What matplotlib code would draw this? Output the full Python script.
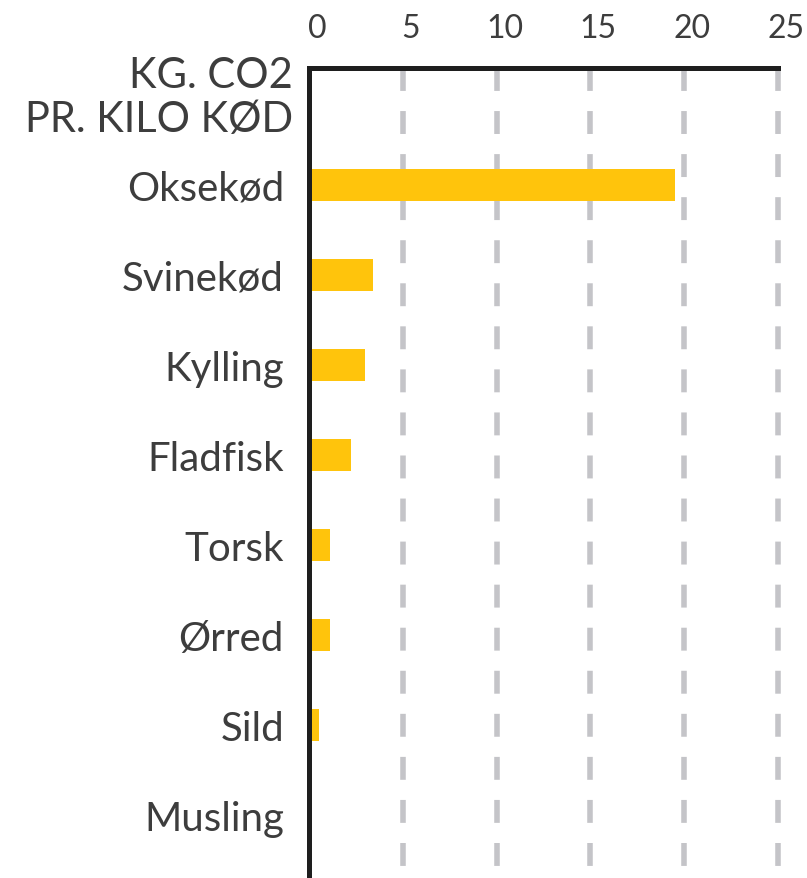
import matplotlib
matplotlib.use("Agg")
import matplotlib.pyplot as plt
import matplotlib.transforms as mtransforms

categories = ["Oksekød", "Svinekød", "Kylling", "Fladfisk", "Torsk", "Ørred", "Sild", "Musling"]
values = [19.5, 3.4, 3.0, 2.25, 1.1, 1.1, 0.55, 0.0]
xticks = [0, 5, 10, 15, 20, 25]
header = "KG. CO2\nPR. KILO KØD"

TEXT = "#3d3d3d"
BAR = "#FFC40C"
GRID = "#C4C4C8"
FONT = "Lato"

plt.rcParams["font.family"] = [FONT, "DejaVu Sans"]
plt.rcParams["lines.scale_dashes"] = False

fig = plt.figure(figsize=(8.07, 8.79), dpi=100)
W, H = 807, 879
ax = fig.add_axes([309 / W, 0, (778 - 309) / W, 1 - 69 / H])

ypos = list(range(len(categories)))
ax.set_xlim(0, 25)
ax.set_ylim(7.7, -1.3)

for x in xticks[1:]:
    ax.plot([x, x], [-1.3, 7.7], color=GRID, lw=4.0, dashes=(16.5, 14.5),
            solid_capstyle="butt", dash_capstyle="butt", clip_on=False, zorder=1)

ax.barh(ypos, values, height=0.345, color=BAR, zorder=2)

for s in ["right", "bottom"]:
    ax.spines[s].set_visible(False)
for s in ["left", "top"]:
    ax.spines[s].set_linewidth(3.6)
    ax.spines[s].set_color("#1e1e1e")
    ax.spines[s].set_zorder(3)

# top scale labels
ax.set_xticks([])
tick_tr = mtransforms.blended_transform_factory(ax.transData, ax.transAxes) + \
    mtransforms.ScaledTranslation(8 / 100, 25 / 100, fig.dpi_scale_trans)
for t in xticks:
    ax.text(t, 1.0, str(t), transform=tick_tr, ha="center", va="bottom",
            fontsize=23, color=TEXT, clip_on=False)

ax.set_yticks(ypos)
ax.set_yticklabels(categories, fontsize=29, color=TEXT)
ax.tick_params(axis="y", length=0, pad=18)

ax.text(-16 / 18.8, -0.98, header, ha="right", va="center", fontsize=30,
        color=TEXT, linespacing=1.2, transform=ax.transData, clip_on=False)

fig.savefig("out.png", dpi=100)
